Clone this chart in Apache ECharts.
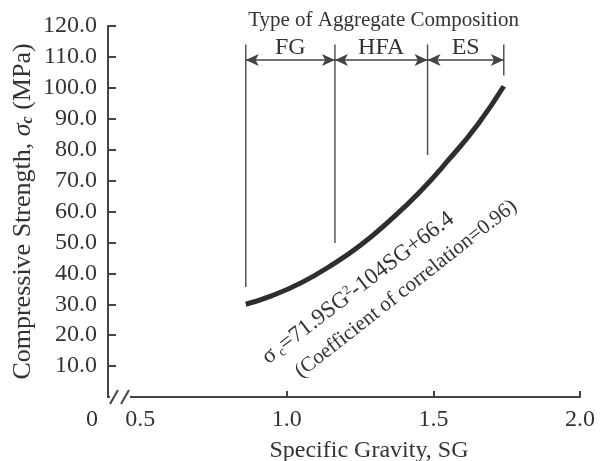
<!DOCTYPE html>
<html><head><meta charset="utf-8">
<script src="https://cdn.jsdelivr.net/npm/echarts@6/dist/echarts.min.js"></script>
<style>html,body{margin:0;padding:0;background:#fff}#c{width:603px;height:461px}</style>
</head><body><div id="c"></div>
<script>
// Curve
const sgValues = [0.86, 0.95, 1.05, 1.15, 1.25, 1.35, 1.45, 1.55, 1.65, 1.74];
const strengthValues = [30.0, 32.8, 37.0, 42.5, 49.0, 57.0, 66.0, 76.5, 88.0, 100.5];
// Aggregate composition boundaries (SG) and the lower end of each boundary line (MPa)
const boundarySG = [0.86, 1.164, 1.48, 1.74];
const boundaryBottom = [35.6, 49.8, 78.3, 104];
const boundaryTop = 114;
const arrowLevel = 109;
const zoneNames = ['FG', 'HFA', 'ES'];
const xTickLabels = [0.5, 1.0, 1.5, 2.0];
const xTicks = [1.0, 1.5, 2.0];
const yMin = 0, yMax = 120, yStep = 10;

const FONT = '"Liberation Serif", "DejaVu Serif", serif';
const INK = '#333';
const FS = 24;
const chart = echarts.init(document.getElementById('c'));

const series = [];
series.push({
  type: 'line', smooth: true, symbol: 'none', silent: true,
  data: sgValues.map((x, i) => [x, strengthValues[i]]),
  lineStyle: { width: 5, color: '#2e2e2e' }, z: 5
});
boundarySG.forEach((x, i) => {
  series.push({
    type: 'line', symbol: 'none', silent: true,
    data: [[x, boundaryBottom[i]], [x, boundaryTop]],
    lineStyle: { width: 1.5, color: '#555' }
  });
});
const arrows = [];
for (let i = 0; i < boundarySG.length - 1; i++) {
  arrows.push([{ coord: [boundarySG[i], arrowLevel] }, { coord: [boundarySG[i + 1], arrowLevel] }]);
}
series.push({
  type: 'line', data: [], silent: true,
  markLine: {
    silent: true, symbol: ['arrow', 'arrow'], symbolSize: [9, 13],
    label: { show: false },
    lineStyle: { type: 'solid', width: 1.5, color: '#444' },
    emphasis: { disabled: true },
    data: arrows
  }
});

chart.setOption({
  animation: false,
  grid: { left: 108, right: 23, top: 26, bottom: 64, outerBoundsMode: 'none', containLabel: false },
  xAxis: {
    type: 'value', min: 0.39, max: 2.0,
    splitLine: { show: false },
    axisLine: { lineStyle: { color: '#444', width: 2 } },
    axisTick: { inside: true, length: 6, lineStyle: { width: 2, color: '#444' }, customValues: xTicks },
    axisLabel: { customValues: xTickLabels, formatter: v => v.toFixed(1), fontFamily: FONT, fontSize: FS, color: INK, margin: 11 },
    name: 'Specific Gravity, SG', nameLocation: 'middle', nameGap: 42,
    nameTextStyle: { fontFamily: FONT, fontSize: FS, color: INK, padding: [0, 0, 0, 50] }
  },
  yAxis: {
    type: 'value', min: yMin, max: yMax, interval: yStep,
    splitLine: { show: false },
    axisLine: { lineStyle: { color: '#444', width: 2 } },
    axisTick: { inside: true, length: 8, lineStyle: { width: 2, color: '#444' } },
    axisLabel: { formatter: v => v === 0 ? '' : v.toFixed(1), fontFamily: FONT, fontSize: FS, color: INK, margin: 11 },
    name: 'Compressive Strength, {s|σ}{c|c} (MPa)', nameLocation: 'middle', nameGap: 72, nameMoveOverlap: false,
    nameTextStyle: { fontFamily: FONT, fontSize: 26, color: INK,
      rich: { s: { fontFamily: FONT, fontSize: 26, fontStyle: 'italic', color: INK },
              c: { fontFamily: FONT, fontSize: 16, fontStyle: 'italic', fontWeight: 'bold', color: INK, verticalAlign: 'bottom', padding: [8, 0, 0, 0] } } }
  },
  series: series
});

function px(x, y) { return chart.convertToPixel({ gridIndex: 0 }, [x, y]); }
const g = [];
const xAxisPix = px(1, 0);
const yAxisPix = px(0.39, 0);
// "0" label left of the break
g.push({ type: 'text', style: { text: '0', x: yAxisPix[0] - 16, y: xAxisPix[1] + 23, font: FS + 'px ' + FONT, fill: INK, align: 'center', verticalAlign: 'middle' } });
// axis break
g.push({ type: 'rect', shape: { x: yAxisPix[0] + 2, y: xAxisPix[1] - 4, width: 20, height: 8 }, style: { fill: '#fff' }, z: 100 });
g.push({ type: 'line', shape: { x1: yAxisPix[0] + 2, y1: xAxisPix[1] + 7, x2: yAxisPix[0] + 10, y2: xAxisPix[1] - 7 }, style: { stroke: '#444', lineWidth: 2 }, z: 101 });
g.push({ type: 'line', shape: { x1: yAxisPix[0] + 13, y1: xAxisPix[1] + 7, x2: yAxisPix[0] + 21, y2: xAxisPix[1] - 7 }, style: { stroke: '#444', lineWidth: 2 }, z: 101 });
// title
const tPos = px(1.33, 122);
g.push({ type: 'text', style: { text: 'Type of Aggregate Composition', x: tPos[0], y: 20, font: '21px ' + FONT, fill: INK, align: 'center', verticalAlign: 'middle' } });
// zone labels
for (let i = 0; i < zoneNames.length; i++) {
  const p = px((boundarySG[i] + boundarySG[i + 1]) / 2, 113);
  g.push({ type: 'text', style: { text: zoneNames[i], x: p[0], y: p[1], font: FS + 'px ' + FONT, fill: INK, align: 'center', verticalAlign: 'middle' } });
}
// equation
const rot = 37.5 * Math.PI / 180;
g.push({ type: 'text', x: 358, y: 288, rotation: rot,
  style: { text: '{n|σ} {b|c}{n|=71.9SG}{p|2}{n|-104SG+66.4}', x: 0, y: 0, align: 'center', verticalAlign: 'middle',
    rich: { n: { font: '23px ' + FONT, fill: INK }, b: { font: '13px ' + FONT, fill: INK, verticalAlign: 'bottom' }, p: { font: '13px ' + FONT, fill: INK, verticalAlign: 'top' } } } });
g.push({ type: 'text', x: 406, y: 289, rotation: rot + 0.01,
  style: { text: '(Coefficient of correlation=0.96)', x: 0, y: 0, align: 'center', verticalAlign: 'middle', font: '21px ' + FONT, fill: INK } });
chart.setOption({ graphic: g });
</script></body></html>
